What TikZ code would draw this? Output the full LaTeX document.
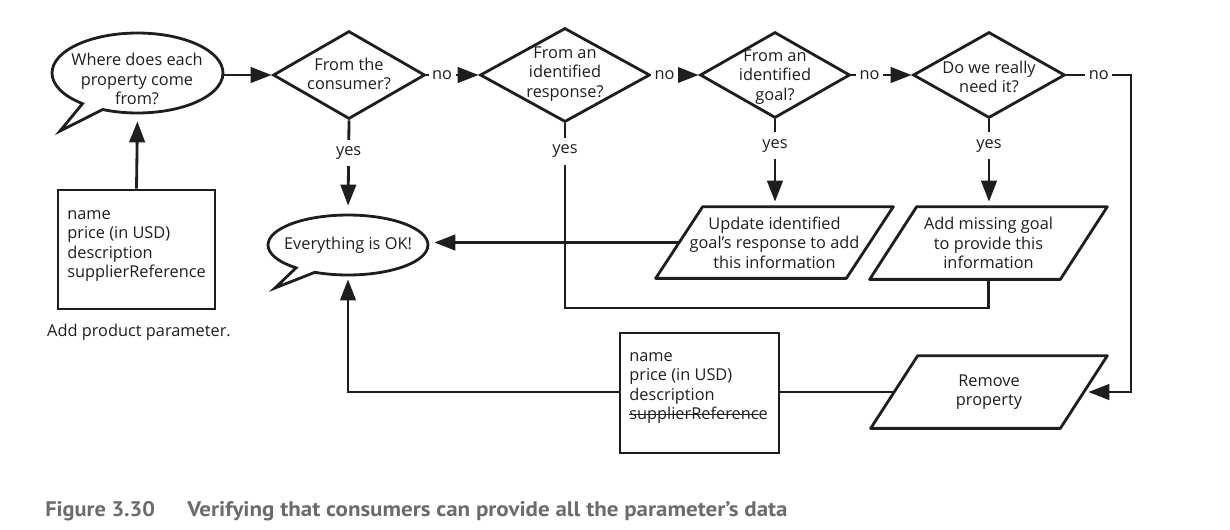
\documentclass[tikz,border=0pt]{standalone}
\usepackage{fontspec}
\setmainfont{Open Sans}
\newfontfamily\capfont{PT Sans}
\usetikzlibrary{shapes.geometric,shapes.callouts,arrows.meta}
\definecolor{capgray}{HTML}{6B6B6B}
\definecolor{ink}{HTML}{1E1E1E}
\newlength\strklen
\newcommand\strk[1]{\settowidth{\strklen}{#1}\rlap{\rule[0.28em]{\strklen}{0.7pt}}#1}
\tikzset{
  every node/.style={font=\fontsize{9.3}{11}\selectfont, text=ink},
  conn/.style={line width=1.6pt, draw=ink},
  arrconn/.style={conn, -{Triangle[length=0.42cm,width=0.31cm]}},
  dia/.style={diamond, draw=ink, line width=1.6pt, inner sep=0pt},
  bub/.style={ellipse callout, draw=ink, line width=1.6pt, inner sep=0pt, callout pointer arc=16},
  paranode/.style={rectangle, draw=none, inner sep=0pt, align=center},
  paraline/.style={draw=ink, line width=1.6pt, line join=round},
  pbox/.style={rectangle, draw=ink, line width=1.6pt, inner sep=0pt},
  txt/.style={align=center, inner sep=0pt},
  lbl/.style={fill=white, inner xsep=2pt, inner ysep=4pt},
  capstyle/.style={anchor=base west, inner sep=0pt, text=capgray, font=\capfont\bfseries\fontsize{12}{14}\selectfont},
}
% parallelogram outline around a named node, slant 0.94cm
\newcommand\paraoutline[1]{\draw[paraline] (#1.south west) -- ([xshift=0.94cm]#1.north west) -- (#1.north east) -- ([xshift=-0.94cm]#1.south east) -- cycle;}
\begin{document}
\begin{tikzpicture}[x=0.02cm,y=-0.02cm]
\useasboundingbox (0,0) rectangle (1230,529);

% speech bubble start
\node[bub, minimum width=3.42cm, minimum height=1.6cm, callout absolute pointer={(60,131)}] (b1) at (137.5,73) {};
\node[txt] (b1t) at (137,79) {Where does each\\property come\\from?};

% diamonds
\node[dia, minimum width=3.04cm, minimum height=1.76cm] (d1) at (349,75) {};
\node[txt] (d1t) at (349,74) {From the\\consumer?};
\node[dia, minimum width=3.4cm, minimum height=1.88cm] (d2) at (565,75) {};
\node[txt] (d2t) at (565,74) {From an\\identified\\response?};
\node[dia, minimum width=3.0cm, minimum height=1.72cm] (d3) at (775,75) {};
\node[txt] (d3t) at (775,77) {From an\\identified\\goal?};
\node[dia, minimum width=3.04cm, minimum height=1.72cm] (d4) at (989,75) {};
\node[txt] (d4t) at (989,77) {Do we really\\need it?};

% everything ok bubble
\node[bub, minimum width=3.2cm, minimum height=1.2cm, callout absolute pointer={(275,288)}] (ok) at (348,245) {};
\node[txt] (okt) at (348,245) {Everything is OK!};

% product box
\node[pbox, minimum width=3.14cm, minimum height=2.38cm] (box1) at (136.5,249.5) {};
\node[txt, align=left, anchor=west] (box1t) at (67,246) {name\\price (in USD)\\description\\supplierReference};
\node[txt] (addp) at (139,332) {Add product parameter.};

% parallelograms
\node[paranode, minimum width=4.74cm, minimum height=1.42cm] (p1) at (774.5,242.5) {Update identified\\goal's response to add\\this information};
\paraoutline{p1}
\node[paranode, minimum width=4.74cm, minimum height=1.44cm] (p2) at (988.5,243) {Add missing goal\\to provide this\\information};
\paraoutline{p2}
\node[paranode, minimum width=4.72cm, minimum height=1.44cm] (p3) at (989,392) {Remove\\property};
\paraoutline{p3}

% reduced box
\node[pbox, minimum width=3.18cm, minimum height=2.4cm] (box2) at (699.5,393) {};
\node[txt, align=left, anchor=west] (box2t) at (629,388) {name\\price (in USD)\\description\\\strk{supplierReferenc}e};

% connectors
\draw[arrconn] (b1.east |- d1.west) -- (d1.west);
\draw[arrconn] (d1.east) -- node[lbl,pos=0.3]{no} (d2.west);
\draw[arrconn] (d2.east) -- node[lbl,pos=0.28]{no} (d3.west);
\draw[arrconn] (d3.east) -- node[lbl,pos=0.3]{no} (d4.west);
\coordinate (c4) at (1131,75);
\draw[arrconn, shorten >=0.09cm] (d4.east) -- node[lbl,pos=0.5]{no} (c4) |- ([xshift=-0.47cm]p3.east);

\draw[arrconn, shorten >=0.16cm] (d1.south) -- node[lbl,pos=0.35]{yes} (ok.north);
\coordinate (c2) at (565,308);
\draw[conn] (d2.south) -- node[lbl,pos=0.15]{yes} (c2) -| (p2.south);
\draw[arrconn, shorten >=0.1cm] (d3.south) -- node[lbl,pos=0.3]{yes} (d3.south |- p1.north);
\draw[arrconn, shorten >=0.1cm] (d4.south) -- node[lbl,pos=0.3]{yes} (d4.south |- p2.north);

\draw[arrconn, shorten >=0.1cm] ([xshift=0.47cm]p1.west) -- (p1.west -| ok.east);
\draw[conn] ([xshift=0.47cm]p3.west) -- (box2.east |- p3.west);
\draw[arrconn, shorten >=0.06cm] (box2.west |- p3.west) -| (ok.south);
\draw[arrconn, shorten >=0.14cm] (box1.north) -- (b1.south);

% caption
\node[capstyle] (cap1) at (45,516) {\scalebox{1.06}[1]{Figure 3.30}};
\node[capstyle] (cap2) at (187,516) {\scalebox{1.09}[1]{Verifying that consumers can provide all the parameter’s data}};
\end{tikzpicture}
\end{document}
